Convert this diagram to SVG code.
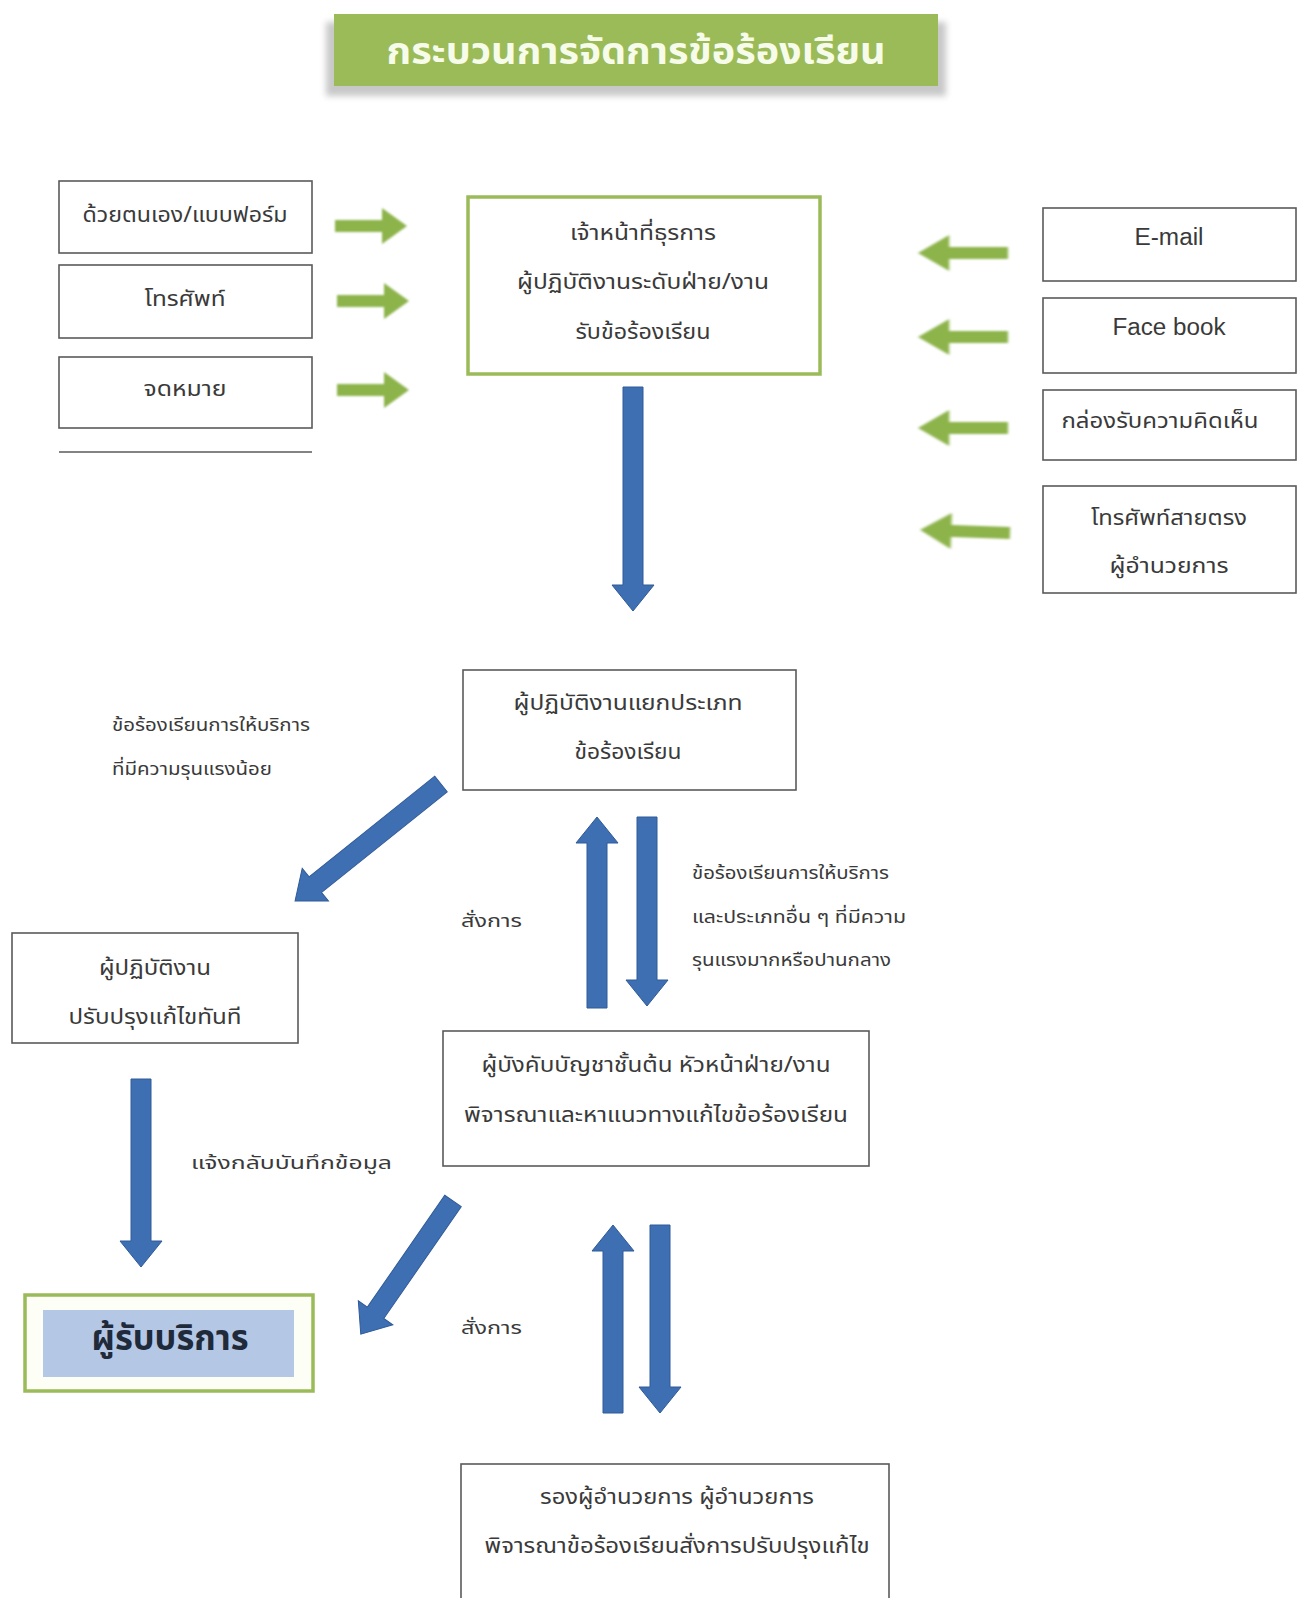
<svg xmlns="http://www.w3.org/2000/svg" width="1303" height="1598" viewBox="0 0 1303 1598">
<defs>
<style>
.t{font-family:"Noto Sans Thai","Noto Sans","DejaVu Sans",sans-serif;fill:#3a3a3a;text-anchor:middle;}
.b{font-size:21px;}
.s{font-size:18px;text-anchor:start;}
.box{fill:#ffffff;stroke:#5a5a5a;stroke-width:1.6;}
.gbox{fill:#ffffff;stroke:#9bbb59;stroke-width:3.5;}
.blue{fill:#3f6fb3;stroke:#2f5a97;stroke-width:1;}
.green{fill:#8db44c;filter:url(#soft);}
</style>
<filter id="soft" x="-20%" y="-50%" width="140%" height="200%"><feGaussianBlur stdDeviation="1.2"/></filter>
<filter id="shadow" x="-5%" y="-20%" width="110%" height="160%"><feGaussianBlur stdDeviation="3"/></filter>
<polygon id="garrow" points="0,-6 47,-6 47,-18 72,0 47,18 47,6 0,6"/>
</defs>
<rect width="1303" height="1598" fill="#ffffff"/>

<g id="title">
<rect x="326" y="22" width="620" height="74" fill="#c8c8c8" filter="url(#shadow)"/>
<rect x="334" y="14" width="604" height="72" fill="#9bbb59"/>
<text x="636" y="64" class="t" style="font-size:38px;font-weight:bold;fill:#f7fbe9" textLength="499" lengthAdjust="spacingAndGlyphs">กระบวนการจัดการข้อร้องเรียน</text>
</g>

<g id="src-self">
<rect x="59" y="181" width="253" height="72" class="box"/>
<text x="185" y="222" class="t b" textLength="205" lengthAdjust="spacingAndGlyphs">ด้วยตนเอง/แบบฟอร์ม</text>
</g>
<g id="src-phone">
<rect x="59" y="265" width="253" height="73" class="box"/>
<text x="185" y="306" class="t b" textLength="81" lengthAdjust="spacingAndGlyphs">โทรศัพท์</text>
</g>
<g id="src-letter">
<rect x="59" y="357" width="253" height="71" class="box"/>
<text x="185" y="396" class="t b" textLength="83" lengthAdjust="spacingAndGlyphs">จดหมาย</text>
<line x1="59" y1="452" x2="312" y2="452" stroke="#5a5a5a" stroke-width="1.6"/>
</g>

<g id="receive">
<rect x="468" y="197" width="352" height="177" class="gbox"/>
<text x="643" y="240" class="t b" textLength="146" lengthAdjust="spacingAndGlyphs">เจ้าหน้าที่ธุรการ</text>
<text x="643" y="289" class="t b" textLength="252" lengthAdjust="spacingAndGlyphs">ผู้ปฏิบัติงานระดับฝ่าย/งาน</text>
<text x="643" y="339" class="t b" textLength="135" lengthAdjust="spacingAndGlyphs">รับข้อร้องเรียน</text>
</g>

<g id="src-email">
<rect x="1043" y="208" width="253" height="73" class="box"/>
<text x="1169" y="245" class="t" style="font-size:23px;font-family:'Liberation Sans',sans-serif" textLength="69" lengthAdjust="spacingAndGlyphs">E-mail</text>
</g>
<g id="src-facebook">
<rect x="1043" y="298" width="253" height="75" class="box"/>
<text x="1169" y="335" class="t" style="font-size:23px;font-family:'Liberation Sans',sans-serif" textLength="113" lengthAdjust="spacingAndGlyphs">Face book</text>
</g>
<g id="src-box">
<rect x="1043" y="390" width="253" height="70" class="box"/>
<text x="1160" y="428" class="t b" textLength="197" lengthAdjust="spacingAndGlyphs">กล่องรับความคิดเห็น</text>
</g>
<g id="src-hotline">
<rect x="1043" y="486" width="253" height="107" class="box"/>
<text x="1169" y="525" class="t b" textLength="156" lengthAdjust="spacingAndGlyphs">โทรศัพท์สายตรง</text>
<text x="1169" y="573" class="t b" textLength="119" lengthAdjust="spacingAndGlyphs">ผู้อำนวยการ</text>
</g>

<g id="classify">
<rect x="463" y="670" width="333" height="120" class="box"/>
<text x="628" y="710" class="t b" textLength="229" lengthAdjust="spacingAndGlyphs">ผู้ปฏิบัติงานแยกประเภท</text>
<text x="628" y="759" class="t b" textLength="107" lengthAdjust="spacingAndGlyphs">ข้อร้องเรียน</text>
</g>

<g id="fix-now">
<rect x="12" y="933" width="286" height="110" class="box"/>
<text x="155" y="975" class="t b" textLength="112" lengthAdjust="spacingAndGlyphs">ผู้ปฏิบัติงาน</text>
<text x="155" y="1024" class="t b" textLength="173" lengthAdjust="spacingAndGlyphs">ปรับปรุงแก้ไขทันที</text>
</g>

<g id="supervisor">
<rect x="443" y="1031" width="426" height="135" class="box"/>
<text x="656" y="1072" class="t b" textLength="349" lengthAdjust="spacingAndGlyphs">ผู้บังคับบัญชาชั้นต้น หัวหน้าฝ่าย/งาน</text>
<text x="656" y="1122" class="t b" textLength="384" lengthAdjust="spacingAndGlyphs">พิจารณาและหาแนวทางแก้ไขข้อร้องเรียน</text>
</g>

<g id="customer">
<rect x="25" y="1295" width="288" height="96" fill="#fdfef5" stroke="#9bbb59" stroke-width="3.5"/>
<rect x="43" y="1310" width="251" height="67" fill="#b4c8e6"/>
<text x="170" y="1350" class="t" style="font-size:36px;font-weight:bold;fill:#1f2a3a" textLength="157" lengthAdjust="spacingAndGlyphs">ผู้รับบริการ</text>
</g>

<g id="director">
<rect x="461" y="1464" width="428" height="140" class="box"/>
<text x="677" y="1504" class="t b" textLength="274" lengthAdjust="spacingAndGlyphs">รองผู้อำนวยการ ผู้อำนวยการ</text>
<text x="677" y="1553" class="t b" textLength="385" lengthAdjust="spacingAndGlyphs">พิจารณาข้อร้องเรียนสั่งการปรับปรุงแก้ไข</text>
</g>

<g id="connectors">
<use href="#garrow" transform="translate(335,226)" class="green"/>
<use href="#garrow" transform="translate(337,301)" class="green"/>
<use href="#garrow" transform="translate(337,390)" class="green"/>
<use href="#garrow" transform="translate(1008,253) rotate(180) scale(1.25,1)" class="green"/>
<use href="#garrow" transform="translate(1008,337) rotate(180) scale(1.25,1)" class="green"/>
<use href="#garrow" transform="translate(1008,428) rotate(180) scale(1.25,1)" class="green"/>
<use href="#garrow" transform="translate(1010,533) rotate(182) scale(1.25,1)" class="green"/>

<polygon class="blue" points="623,387 643,387 643,585 654,585 633,611 612,585 623,585"/>
<polygon class="blue" transform="translate(441,784) rotate(141.3)" points="0,-10 161,-10 161,-21 187,0 161,21 161,10 0,10"/>
<polygon class="blue" points="587,1008 607,1008 607,843 618,843 597,817 576,843 587,843"/>
<polygon class="blue" points="637,817 657,817 657,980 668,980 647,1006 626,980 637,980"/>
<polygon class="blue" points="131,1079 151,1079 151,1241 162,1241 141,1267 120,1241 131,1241"/>
<polygon class="blue" transform="translate(453,1201) rotate(124.7)" points="0,-10 136,-10 136,-21 162,0 136,21 136,10 0,10"/>
<polygon class="blue" points="603,1413 623,1413 623,1251 634,1251 613,1225 592,1251 603,1251"/>
<polygon class="blue" points="650,1225 670,1225 670,1387 681,1387 660,1413 639,1387 650,1387"/>

<text x="112" y="731" class="t s" textLength="198" lengthAdjust="spacingAndGlyphs">ข้อร้องเรียนการให้บริการ</text>
<text x="112" y="775" class="t s" textLength="160" lengthAdjust="spacingAndGlyphs">ที่มีความรุนแรงน้อย</text>
<text x="461" y="927" class="t s" textLength="61" lengthAdjust="spacingAndGlyphs">สั่งการ</text>
<text x="692" y="879" class="t s" textLength="197" lengthAdjust="spacingAndGlyphs">ข้อร้องเรียนการให้บริการ</text>
<text x="692" y="923" class="t s" textLength="214" lengthAdjust="spacingAndGlyphs">และประเภทอื่น ๆ ที่มีความ</text>
<text x="692" y="966" class="t s" textLength="199" lengthAdjust="spacingAndGlyphs">รุนแรงมากหรือปานกลาง</text>
<text x="191" y="1169" class="t s" textLength="201" lengthAdjust="spacingAndGlyphs">แจ้งกลับบันทึกข้อมูล</text>
<text x="461" y="1334" class="t s" textLength="61" lengthAdjust="spacingAndGlyphs">สั่งการ</text>
</g>
</svg>
